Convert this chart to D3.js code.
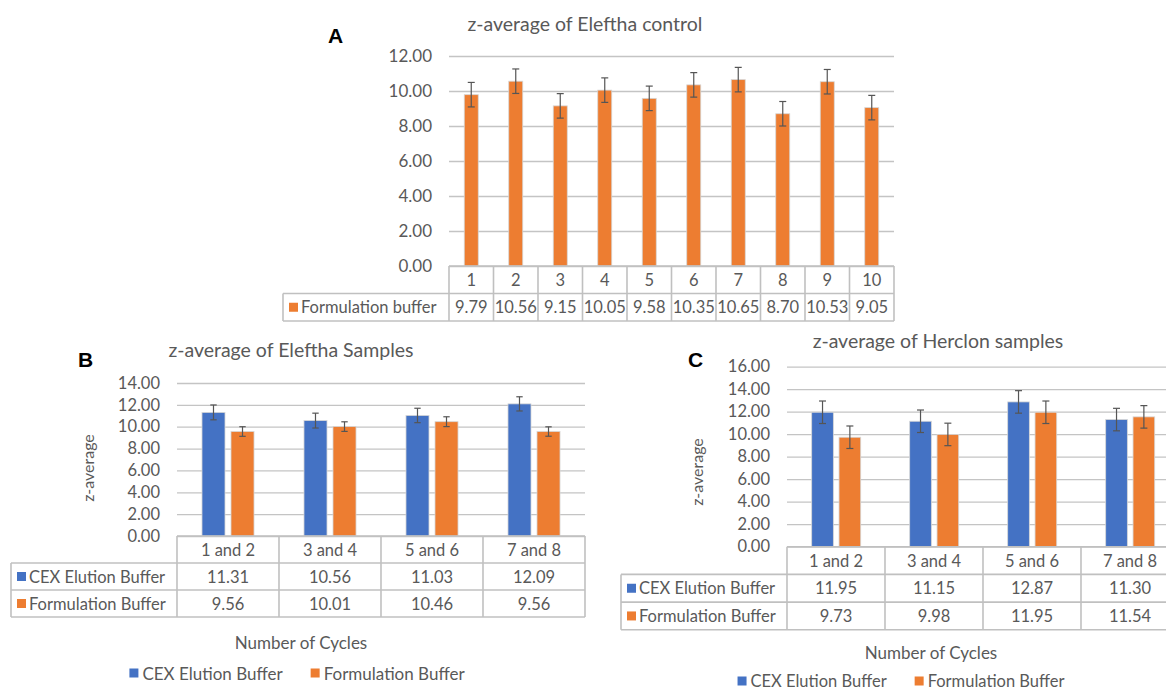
<!DOCTYPE html>
<html>
<head>
<meta charset="utf-8">
<script src="https://cdn.jsdelivr.net/npm/d3@7"></script>
<style>
  html, body { margin: 0; padding: 0; background: #ffffff; }
  svg { display: block; font-family: Lato, "Open Sans", sans-serif; }
</style>
</head>
<body>
<svg id="chart" width="1166" height="691"></svg>
<script>
// ---------- DATA ----------
const seriesNames = ["CEX Elution Buffer", "Formulation Buffer"];

// Panel A
const titleA = "z-average of Eleftha control";
const catsA = ["1", "2", "3", "4", "5", "6", "7", "8", "9", "10"];
const formA = [9.79, 10.56, 9.15, 10.05, 9.58, 10.35, 10.65, 8.70, 10.53, 9.05];
const errFormA = [0.7, 0.7, 0.7, 0.7, 0.7, 0.7, 0.7, 0.7, 0.7, 0.7];
const ticksA = [0, 2, 4, 6, 8, 10, 12];
const legendNameA = "Formulation buffer";

// Panel B
const titleB = "z-average of Eleftha Samples";
const catsB = ["1 and 2", "3 and 4", "5 and 6", "7 and 8"];
const cexB = [11.31, 10.56, 11.03, 12.09];
const formB = [9.56, 10.01, 10.46, 9.56];
const errCexB = [0.68, 0.68, 0.66, 0.65];
const errFormB = [0.44, 0.44, 0.45, 0.43];
const ticksB = [0, 2, 4, 6, 8, 10, 12, 14];

// Panel C
const titleC = "z-average of Herclon samples";
const catsC = ["1 and 2", "3 and 4", "5 and 6", "7 and 8"];
const cexC = [11.95, 11.15, 12.87, 11.30];
const formC = [9.73, 9.98, 11.95, 11.54];
const errCexC = [1.0, 1.0, 1.0, 1.0];
const errFormC = [1.0, 1.0, 1.0, 1.0];
const ticksC = [0, 2, 4, 6, 8, 10, 12, 14, 16];

const yTitle = "z-average";
const xTitle = "Number of Cycles";

// ---------- STYLE ----------
const BLUE = "#4472C4", ORANGE = "#ED7D31";
const GRID = "#c4c4c4", BORDER = "#c0c0c0", TXT = "#595959", ERR = "#555555";
const fmt = d3.format(".2f");

const svg = d3.select("#chart");

function panel(o) {
  const g = svg.append("g");
  const x = d3.scaleBand().domain(o.cats).range([o.x0, o.x1]).padding(0);
  const y = d3.scaleLinear().domain([0, d3.max(o.ticks)]).range([o.yBottom, o.yTop]);
  const bw = x.bandwidth();
  const inner = d3.scaleBand().domain(o.series.map(s => s.name))
    .range([bw * o.innerLo, bw * o.innerHi]).paddingInner(o.innerPad).paddingOuter(0);

  // gridlines + tick labels
  const axis = d3.axisLeft(y).tickValues(o.ticks).tickFormat(fmt)
    .tickSize(-(o.x1 - o.x0)).tickPadding(17);
  const ag = g.append("g").attr("transform", `translate(${o.x0},0)`).call(axis);
  ag.select(".domain").remove();
  ag.selectAll(".tick line").attr("stroke", GRID).attr("stroke-width", 1.3);
  ag.selectAll(".tick text").attr("fill", TXT).attr("font-size", o.tickFs)
    .attr("font-family", "Lato, sans-serif");

  // bars
  o.series.forEach(s => {
    g.append("g").selectAll("rect").data(o.cats).join("rect")
      .attr("x", (c) => x(c) + inner(s.name))
      .attr("width", inner.bandwidth())
      .attr("y", (c, i) => y(s.values[i]))
      .attr("height", (c, i) => y(0) - y(s.values[i]))
      .attr("fill", s.color)
      .attr("stroke", "#d6d6d6").attr("stroke-width", 0.8);
    // error bars
    const eg = g.append("g").attr("stroke", ERR).attr("stroke-width", 1.2);
    o.cats.forEach((c, i) => {
      const cx = x(c) + inner(s.name) + inner.bandwidth() / 2;
      const lo = y(s.values[i] - s.errors[i]), hi = y(s.values[i] + s.errors[i]);
      eg.append("line").attr("x1", cx).attr("x2", cx).attr("y1", lo).attr("y2", hi);
      eg.append("line").attr("x1", cx - o.cap).attr("x2", cx + o.cap).attr("y1", lo).attr("y2", lo);
      eg.append("line").attr("x1", cx - o.cap).attr("x2", cx + o.cap).attr("y1", hi).attr("y2", hi);
    });
  });

  // data table
  const tg = g.append("g");
  const rowH = o.rowH;
  const nRows = 1 + o.series.length;
  const yEnd = o.yBottom + rowH * nRows;
  const lx = o.x0 - o.legendW;
  const line = (x1, y1, x2, y2) => tg.append("line").attr("x1", x1).attr("y1", y1)
    .attr("x2", x2).attr("y2", y2).attr("stroke", BORDER).attr("stroke-width", 1.6);
  line(o.x0, o.yBottom, o.x1, o.yBottom);
  for (let r = 1; r <= nRows; r++) line(lx, o.yBottom + rowH * r, o.x1, o.yBottom + rowH * r);
  line(lx, o.yBottom + rowH, lx, yEnd);
  o.cats.forEach(c => line(x(c), o.yBottom, x(c), yEnd));
  line(o.x1, o.yBottom, o.x1, yEnd);

  // category row
  tg.selectAll("text.cat").data(o.cats).join("text").attr("class", "cat")
    .attr("x", c => x(c) + bw / 2).attr("y", o.yBottom + rowH / 2)
    .attr("text-anchor", "middle").attr("dominant-baseline", "central")
    .attr("fill", TXT).attr("font-size", o.tableFs).text(c => c);
  // series rows
  o.series.forEach((s, si) => {
    const cy = o.yBottom + rowH * (si + 1.5);
    tg.append("rect").attr("x", lx + 6).attr("y", cy - 4.5).attr("width", 9).attr("height", 9)
      .attr("fill", s.color);
    tg.append("text").attr("x", lx + 18).attr("y", cy).attr("dominant-baseline", "central")
      .attr("fill", TXT).attr("font-size", o.tableFs).text(s.label || s.name);
    tg.selectAll(null).data(o.cats).join("text")
      .attr("x", c => x(c) + bw / 2).attr("y", cy)
      .attr("text-anchor", "middle").attr("dominant-baseline", "central")
      .attr("fill", TXT).attr("font-size", o.valueFs).text((c, i) => fmt(s.values[i]));
  });

  // title + panel letter
  g.append("text").attr("x", o.titleX).attr("y", o.titleY).attr("text-anchor", "middle")
    .attr("fill", TXT).attr("font-size", o.titleFs).text(o.title);
  g.append("text").attr("x", o.letterX).attr("y", o.letterY)
    .attr("font-family", "'Liberation Sans', Arial, sans-serif").attr("font-weight", "bold")
    .attr("font-size", 21).attr("fill", "#000").text(o.letter);

  if (o.yTitleX) {
    g.append("text").attr("transform", `translate(${o.yTitleX},${o.yTitleY}) rotate(-90)`)
      .attr("text-anchor", "middle").attr("dominant-baseline", "central")
      .attr("fill", TXT).attr("font-size", 16).text(yTitle);
  }
  if (o.xTitleX) {
    g.append("text").attr("x", o.xTitleX).attr("y", o.xTitleY).attr("text-anchor", "middle")
      .attr("dominant-baseline", "central").attr("fill", TXT).attr("font-size", 17).text(xTitle);
  }
  if (o.legendCx) {
    const lg = g.append("g");
    let cur = 0;
    o.series.forEach((s, i) => {
      lg.append("rect").attr("x", cur).attr("y", -4.5).attr("width", 9).attr("height", 9).attr("fill", s.color);
      const t = lg.append("text").attr("x", cur + 13).attr("y", 0).attr("dominant-baseline", "central")
        .attr("fill", TXT).attr("font-size", o.legendFs).text(s.name);
      cur += 13 + t.node().getComputedTextLength() + 28;
    });
    const total = cur - 28;
    lg.attr("transform", `translate(${o.legendCx - total / 2},${o.legendCy})`);
  }
}

panel({
  letter: "A", letterX: 328, letterY: 43,
  title: titleA, titleX: 585, titleY: 31, titleFs: 19.5,
  cats: catsA, ticks: ticksA,
  x0: 449, x1: 894, yTop: 56, yBottom: 266,
  innerLo: 0.3427, innerHi: 0.6573, innerPad: 0,
  series: [{ name: "Formulation buffer", label: legendNameA, color: ORANGE, values: formA, errors: errFormA }],
  cap: 3.5, rowH: 27.5, legendW: 166, tickFs: 17, tableFs: 16.5, valueFs: 16.5
});

panel({
  letter: "B", letterX: 78, letterY: 367,
  title: titleB, titleX: 291, titleY: 357, titleFs: 19.5,
  cats: catsB, ticks: ticksB,
  x0: 177, x1: 585, yTop: 383, yBottom: 536,
  innerLo: 0.245, innerHi: 0.755, innerPad: 0.207,
  series: [
    { name: seriesNames[0], color: BLUE, values: cexB, errors: errCexB },
    { name: seriesNames[1], color: ORANGE, values: formB, errors: errFormB }
  ],
  cap: 3.2, rowH: 27, legendW: 166, tickFs: 16.5, tableFs: 16.5, valueFs: 16.5,
  yTitleX: 87, yTitleY: 468, xTitleX: 301, xTitleY: 642,
  legendCx: 297, legendCy: 673, legendFs: 17
});

panel({
  letter: "C", letterX: 688, letterY: 367,
  title: titleC, titleX: 938, titleY: 348, titleFs: 19.5,
  cats: catsC, ticks: ticksC,
  x0: 787, x1: 1179, yTop: 366.7, yBottom: 546.7,
  innerLo: 0.252, innerHi: 0.752, innerPad: 0.208,
  series: [
    { name: seriesNames[0], color: BLUE, values: cexC, errors: errCexC },
    { name: seriesNames[1], color: ORANGE, values: formC, errors: errFormC }
  ],
  cap: 3.5, rowH: 27.7, legendW: 166, tickFs: 16.5, tableFs: 16.5, valueFs: 16.5,
  yTitleX: 696, yTitleY: 472, xTitleX: 931, xTitleY: 652,
  legendCx: 901, legendCy: 681, legendFs: 16.5
});
</script>
</body>
</html>
